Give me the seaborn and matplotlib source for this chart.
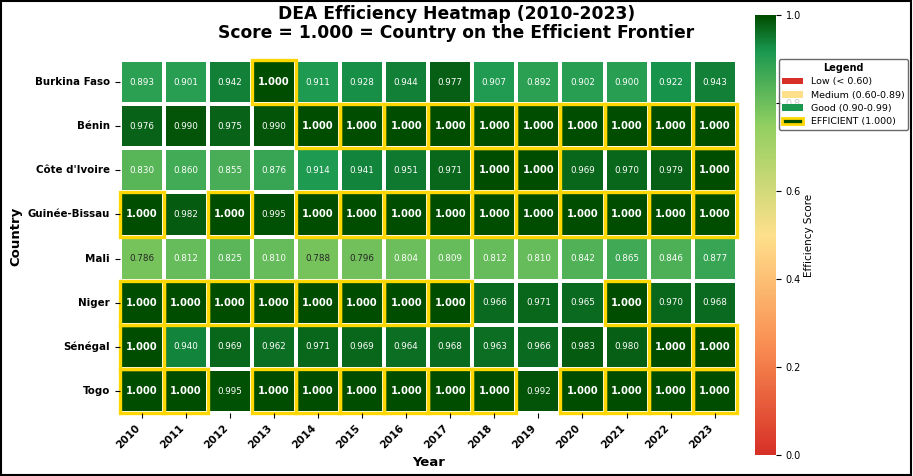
#!/usr/bin/env python3
import numpy as np
import pandas as pd
import seaborn as sns
from matplotlib import pyplot as plt
from matplotlib.patches import Patch, Rectangle
from matplotlib.colors import LinearSegmentedColormap

years = [str(y) for y in range(2010, 2024)]
countries = ["Burkina Faso", "Bénin", "Côte d'Ivoire", "Guinée-Bissau",
             "Mali", "Niger", "Sénégal", "Togo"]

burkina = [0.893, 0.901, 0.942, 1.000, 0.911, 0.928, 0.944, 0.977, 0.907, 0.892, 0.902, 0.900, 0.922, 0.943]
benin = [0.976, 0.990, 0.975, 0.990, 1.000, 1.000, 1.000, 1.000, 1.000, 1.000, 1.000, 1.000, 1.000, 1.000]
civ = [0.830, 0.860, 0.855, 0.876, 0.914, 0.941, 0.951, 0.971, 1.000, 1.000, 0.969, 0.970, 0.979, 1.000]
guinee = [1.000, 0.982, 1.000, 0.995, 1.000, 1.000, 1.000, 1.000, 1.000, 1.000, 1.000, 1.000, 1.000, 1.000]
mali = [0.786, 0.812, 0.825, 0.810, 0.788, 0.796, 0.804, 0.809, 0.812, 0.810, 0.842, 0.865, 0.846, 0.877]
niger = [1.000, 1.000, 1.000, 1.000, 1.000, 1.000, 1.000, 1.000, 0.966, 0.971, 0.965, 1.000, 0.970, 0.968]
senegal = [1.000, 0.940, 0.969, 0.962, 0.971, 0.969, 0.964, 0.968, 0.963, 0.966, 0.983, 0.980, 1.000, 1.000]
togo = [1.000, 1.000, 0.995, 1.000, 1.000, 1.000, 1.000, 1.000, 1.000, 0.992, 1.000, 1.000, 1.000, 1.000]

df = pd.DataFrame([burkina, benin, civ, guinee, mali, niger, senegal, togo],
                  index=countries, columns=years)

# red -> yellow -> green -> dark green
cmap = LinearSegmentedColormap.from_list(
    'dea', [(0.0, '#d73027'), (0.25, '#f98e52'), (0.5, '#fee08b'),
            (0.75, '#91cf60'), (0.92, '#1a9850'), (1.0, '#004d00')])


def plot_heatmap(df):
    fig = plt.figure(figsize=(9.13, 4.76), dpi=100)
    ax = fig.add_axes([0.131, 0.132, 0.676, 0.742])
    cax = fig.add_axes([0.827, 0.044, 0.023, 0.924])

    sns.heatmap(df, ax=ax, cbar_ax=cax, cmap=cmap, vmin=0, vmax=1,
                annot=True, fmt='.3f', annot_kws={'fontsize': 6.3},
                linewidths=1.5, linecolor='white',
                cbar_kws={'label': 'Efficiency Score'})

    vals = df.values.ravel()
    for t, v in zip(ax.texts, vals):
        t.set_color('#262626' if v < 0.8 else 'white')
        if v >= 0.9995:
            t.set_fontweight('bold')
            t.set_fontsize(7.2)

    # gold frame around efficient cells
    for i in range(df.shape[0]):
        for j in range(df.shape[1]):
            if df.iloc[i, j] >= 0.9995:
                ax.add_patch(Rectangle((j, i), 1, 1, fill=False,
                                       edgecolor='#FFD700', linewidth=2.4,
                                       clip_on=False))

    ax.set_xlabel('Year', fontsize=9.5, fontweight='bold')
    ax.set_ylabel('Country', fontsize=9.5, fontweight='bold', labelpad=4)
    ax.set_xticklabels(ax.get_xticklabels(), rotation=45, ha='right',
                       fontsize=7.5, fontweight='bold')
    ax.set_yticklabels(ax.get_yticklabels(), rotation=0,
                       fontsize=7.4, fontweight='bold')

    cax.tick_params(labelsize=7)
    cax.set_ylabel('Efficiency Score', fontsize=7.5, labelpad=2)

    fig.suptitle('DEA Efficiency Heatmap (2010-2023)\nScore = 1.000 = Country on the Efficient Frontier',
                 fontsize=12.3, fontweight='bold', y=0.99, linespacing=1.1)

    handles = [Patch(facecolor='#d73027', label='Low (< 0.60)'),
               Patch(facecolor='#fee08b', label='Medium (0.60-0.89)'),
               Patch(facecolor='#1a9850', label='Good (0.90-0.99)'),
               Patch(facecolor='#004d00', edgecolor='#FFD700', linewidth=2,
                     label='EFFICIENT (1.000)')]
    leg = fig.legend(handles=handles, loc='upper right',
                     bbox_to_anchor=(1.0, 0.885), fontsize=6.8,
                     title='Legend', title_fontproperties={'weight': 'bold', 'size': 7},
                     handlelength=2.2, handleheight=0.7, borderpad=0.4,
                     labelspacing=0.45, framealpha=0.8, edgecolor='#444444')
    leg.get_frame().set_linewidth(1)

    fig.patches.append(Rectangle((0.001, 0.002), 0.997, 0.996,
                                 transform=fig.transFigure, fill=False,
                                 edgecolor='black', linewidth=1.5))

    fig.savefig('out.png', dpi=100)


if __name__ == '__main__':
    plot_heatmap(df)
